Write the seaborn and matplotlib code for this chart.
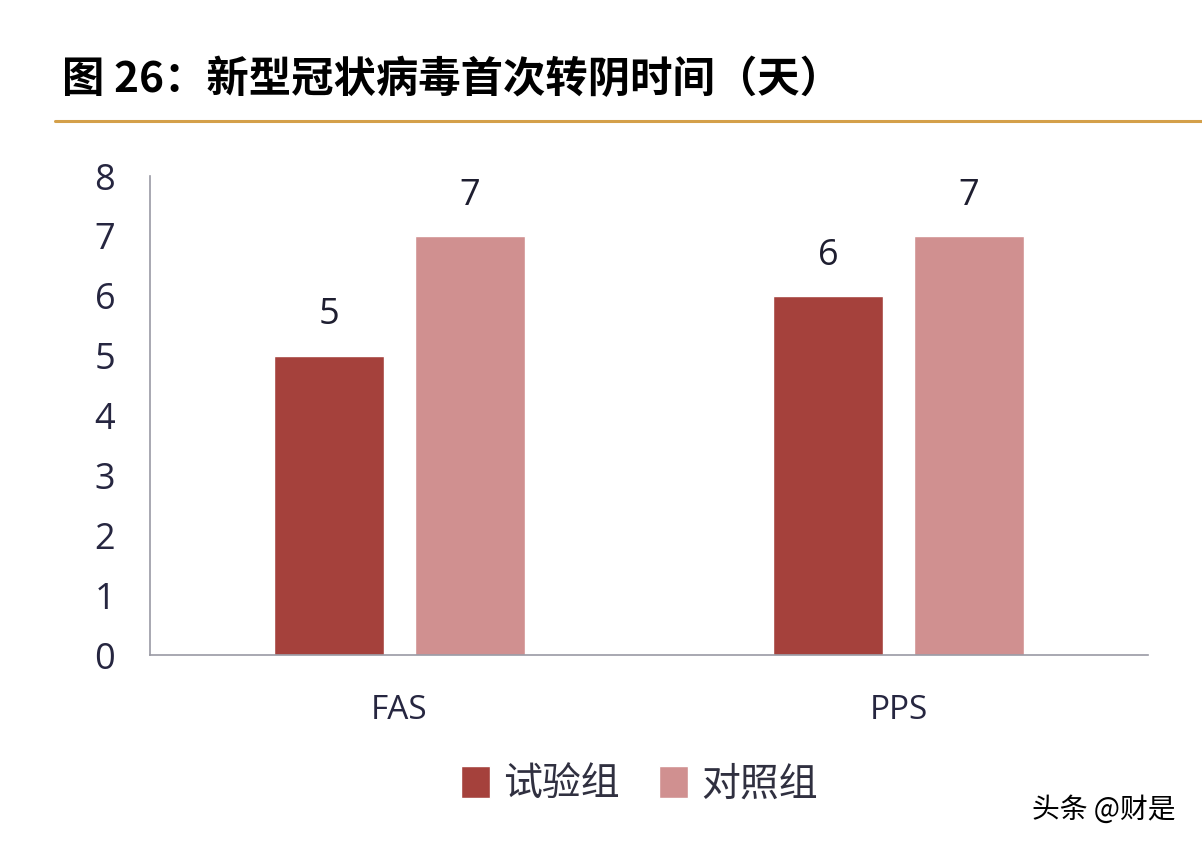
import numpy as np
import pandas as pd
import matplotlib.pyplot as plt
from matplotlib.lines import Line2D
import seaborn as sns

# data
groups = ['FAS', 'PPS']
arms = ['试验组', '对照组']
test_days = [5, 6]
ctrl_days = [7, 7]

df = pd.DataFrame({
    'group': groups * 2,
    'arm': [arms[0]] * 2 + [arms[1]] * 2,
    'days': test_days + ctrl_days,
})

sns.set_style("white")
plt.rcParams['font.family'] = ['Open Sans', 'Noto Sans CJK SC', 'DejaVu Sans']

fig = plt.figure(figsize=(12.02, 8.52), dpi=100)
ax = fig.add_axes([0.1248, 0.2312, 0.8303, 0.5622])

sns.barplot(data=df, x='group', y='days', hue='arm', palette=['#A5413C', '#D09090'],
            saturation=1, width=0.565, gap=0.215, ax=ax, legend=True)

for c in ax.containers:
    ax.bar_label(c, padding=16, fontsize=26, color='#1e1e30')

ax.set_ylim(0, 8)
ax.set_xlim(-0.5, 1.5)
ax.set_yticks(range(0, 9))
ax.set_xlabel('')
ax.set_ylabel('')
sns.despine(ax=ax)
for s in ['left', 'bottom']:
    ax.spines[s].set_color('#9a9aa4')
    ax.spines[s].set_linewidth(1.2)
ax.tick_params(axis='y', length=5, width=1, color='#9a9aa4', pad=20, labelsize=26, labelcolor='#262640')
ax.tick_params(axis='x', length=0, pad=28, labelsize=24, labelcolor='#262640')
for t in ax.get_xticklabels():
    t.set_fontstretch('expanded')

ax.legend(loc='center', bbox_to_anchor=(0.532, 0.0786), bbox_transform=fig.transFigure,
          ncol=2, frameon=False, fontsize=28, handlelength=0.75, handleheight=0.9,
          handletextpad=0.35, columnspacing=1.0, labelcolor='#303040')

# title and rule
fig.text(0.0516, 0.906, '图 26：新型冠状病毒首次转阴时间（天）', fontsize=30.5, fontweight='bold',
         family=['Noto Sans CJK SC', 'DejaVu Sans'], va='center', ha='left', color='black')
fig.lines.append(Line2D([0.046, 1.0], [0.858, 0.858], transform=fig.transFigure,
                        color='#D4A04A', linewidth=2.2))

# watermark
fig.text(0.978, 0.049, '头条 @财是', fontsize=20, family=['Noto Sans CJK SC', 'DejaVu Sans'],
         ha='right', va='center', color='black')

plt.savefig('out.png', dpi=100)
